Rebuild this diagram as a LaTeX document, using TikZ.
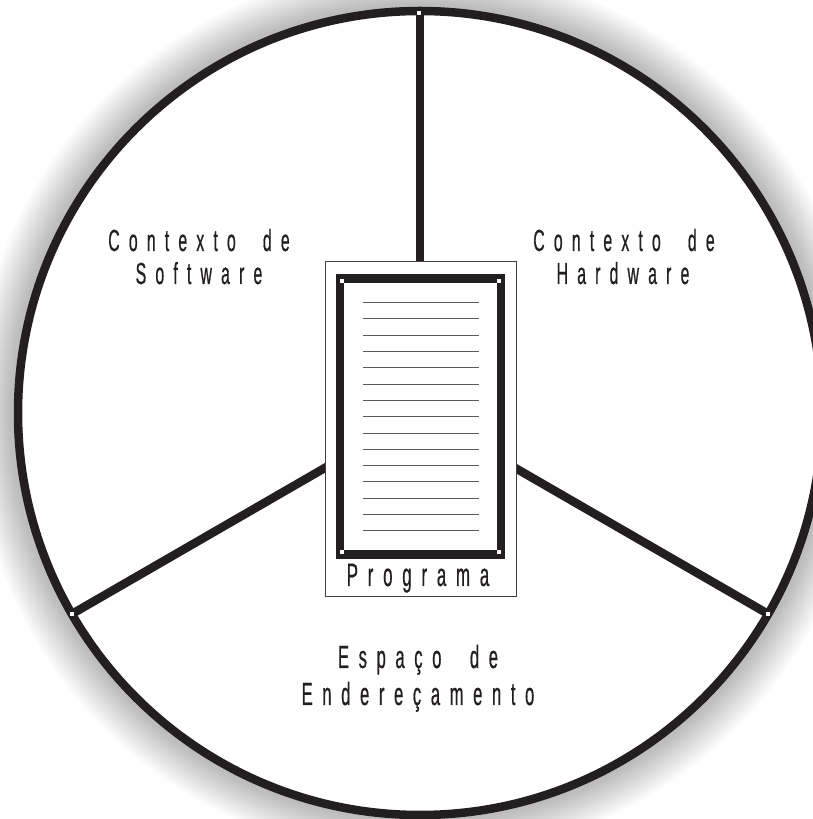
\documentclass[tikz,border=0pt]{standalone}
\usepackage{fontspec}
\usetikzlibrary{calc}
\newfontfamily\lblfont[FakeStretch=0.52,FakeBold=0.5,LetterSpace=30,WordSpace=2]{Liberation Sans}
\definecolor{ink}{RGB}{35,31,32}
\begin{document}
\begin{tikzpicture}[x=1pt,y=1pt,
  ring/.style={draw=ink,line width=8.5pt},
  spoke/.style={draw=ink,line width=8.5pt},
  frame/.style={draw=black!75,line width=1pt,fill=white,minimum width=191pt,minimum height=335pt,inner sep=0pt,outer sep=0pt},
  sheetbox/.style={draw=ink,line width=8.5pt,minimum width=161pt,minimum height=276pt,inner sep=0pt,outer sep=0pt},
  ruleline/.style={draw=black!65,line width=1pt},
  handle/.style={fill=white,draw=none,minimum size=4pt,inner sep=0pt,outer sep=0pt},
  lbl/.style={font=\lblfont\fontsize{30.5}{32}\selectfont,text=ink,inner sep=0pt,anchor=base},
  lblb/.style={font=\lblfont\fontsize{32}{32}\selectfont,text=ink,inner sep=0pt,anchor=base},
  lblp/.style={font=\lblfont\fontsize{32.5}{32}\selectfont,text=ink,inner sep=0pt,anchor=base}]
\useasboundingbox (0,0) rectangle (813,819);
\clip (0,0) rectangle (813,819);
\coordinate (hub) at (420,406);
% shadow
\foreach \i in {1,...,40} \fill[black,opacity=0.0065] (hub) circle ({448-1.15*\i});
\fill[white] (hub) circle (402);
\coordinate (ctop) at ($(hub)+(90:402)$);
\coordinate (cleft) at ($(hub)+(210:402)$);
\coordinate (cright) at ($(hub)+(330:402)$);
\draw[spoke] (hub) -- (ctop);
\draw[spoke] (hub) -- (cleft);
\draw[spoke] (hub) -- (cright);
\draw[ring] (hub) circle (402);
\node[handle] (ht) at ($(ctop)+(-1,-2)$) {};
\node[handle] (hl) at (cleft) {};
\node[handle] (hr) at (cright) {};
% program sheet
\node[frame] (prog) at (420.5,389.5) {};
\node[sheetbox] (sheet) at (420.5,402.5) {};
\foreach \k in {0,...,14} \draw[ruleline] (363,{516.3-16.3*\k}) -- (479,{516.3-16.3*\k});
\node[handle] (h1) at ($(sheet.north west)+(2,-3)$) {};
\node[handle] (h2) at ($(sheet.north east)+(-2,-3)$) {};
\node[handle] (h3) at ($(sheet.south west)+(2,2.5)$) {};
\node[handle] (h4) at ($(sheet.south east)+(-2,2.5)$) {};
\node[lblp] (pg) at (418,233) {Programa};
% labels
\node[lbl] (sw1) at (199,568) {Contexto de};
\node[lbl] (sw2) at (199,535) {Software};
\node[lbl] (hw1) at (624,568) {Contexto de};
\node[lbl] (hw2) at (623,535) {Hardware};
\node[lblb] (es1) at (418,151) {Espaço de};
\node[lblb] (es2) at (418,114) {Endereçamento};
\end{tikzpicture}
\end{document}
